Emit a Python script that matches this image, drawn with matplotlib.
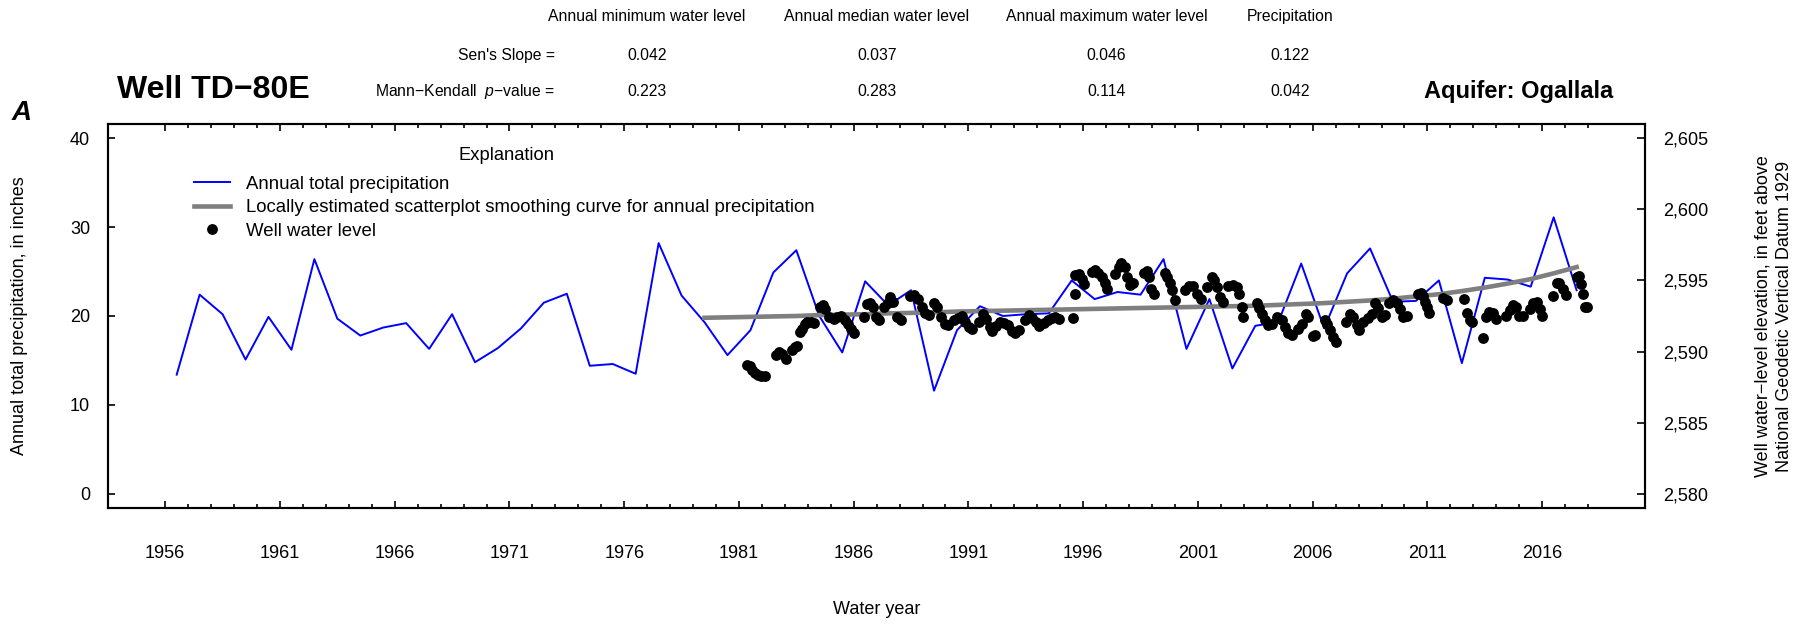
import numpy as np
import matplotlib
matplotlib.use("Agg")
import matplotlib.pyplot as plt
from matplotlib.lines import Line2D
from matplotlib.ticker import FixedLocator, FuncFormatter

# ---- data ----
precip_year = np.arange(1956, 2018)  # water years, drawn at mid-year
precip_in = [13.4, 22.4, 20.2, 15.1, 19.9, 16.2, 26.4, 19.7, 17.8, 18.7,
             19.2, 16.3, 20.2, 14.8, 16.4, 18.6, 21.5, 22.5, 14.4, 14.6,
             13.5, 28.2, 22.3, 19.3, 15.6, 18.4, 24.9, 27.4, 20.0, 15.9,
             23.9, 21.2, 22.9, 11.6, 18.4, 21.1, 20.0, 20.2, 20.3, 24.0,
             21.9, 22.7, 22.4, 26.4, 16.3, 21.9, 14.1, 18.9, 19.3, 25.9,
             18.6, 24.8, 27.6, 21.6, 21.7, 24.0, 14.7, 24.3, 24.1, 23.3,
             31.1, 22.9]

loess_year = np.arange(1979, 2018)
loess_in = [19.8, 19.85, 19.9, 19.95, 20.0, 20.1, 20.15, 20.2, 20.3, 20.35,
            20.4, 20.5, 20.55, 20.6, 20.65, 20.7, 20.75, 20.8, 20.85, 20.9,
            20.95, 21.0, 21.05, 21.1, 21.15, 21.25, 21.35, 21.45, 21.6, 21.75,
            21.95, 22.2, 22.45, 22.8, 23.2, 23.65, 24.15, 24.8, 25.5]

well_year = [
    1981.37, 1981.48, 1981.58, 1981.68, 1981.82, 1981.98, 1982.12,
    1982.62, 1982.75, 1982.87, 1983.03, 1983.32, 1983.45, 1983.55,
    1983.65, 1983.75, 1983.87, 1983.98, 1984.15, 1984.29, 1984.54, 1984.65, 1984.75,
    1984.92, 1985.12, 1985.29, 1985.45, 1985.62, 1985.75, 1985.87, 1986.00,
    1986.45, 1986.59, 1986.70, 1986.82, 1986.95, 1987.12, 1987.32, 1987.49,
    1987.59, 1987.70, 1987.87, 1988.04,
    1988.46, 1988.62, 1988.79, 1988.96, 1989.09, 1989.26, 1989.49, 1989.62,
    1989.79, 1989.96, 1990.09, 1990.37, 1990.54, 1990.71, 1990.87, 1991.04, 1991.17,
    1991.46, 1991.62, 1991.76, 1991.92, 1992.04, 1992.21, 1992.38, 1992.54,
    1992.71, 1992.88, 1993.04, 1993.21,
    1993.46, 1993.63, 1993.79, 1993.96, 1994.09, 1994.29, 1994.46, 1994.63,
    1994.79, 1994.93, 1995.54,
    1995.63, 1995.66, 1995.80, 1995.93, 1996.05, 1996.38, 1996.50, 1996.63,
    1996.80, 1996.93, 1997.05,
    1997.38, 1997.55, 1997.66, 1997.80, 1997.93, 1998.05, 1998.17, 1998.63,
    1998.76, 1998.88, 1998.96, 1999.10, 1999.55, 1999.66, 1999.80, 1999.88, 2000.00,
    2000.43, 2000.60, 2000.80, 2000.97, 2001.13,
    2001.38, 2001.60, 2001.70, 2001.81, 2001.96, 2002.10, 2002.32, 2002.54,
    2002.69, 2002.80, 2002.90, 2002.98,
    2003.56, 2003.67, 2003.78, 2003.92, 2004.07, 2004.21, 2004.46, 2004.65,
    2004.79, 2004.94, 2005.08, 2005.37, 2005.52, 2005.71, 2005.81, 2006.03, 2006.10,
    2006.54, 2006.64, 2006.75, 2006.87, 2007.02, 2007.45, 2007.63, 2007.74,
    2007.92, 2008.03, 2008.21, 2008.42, 2008.57, 2008.72, 2008.86, 2009.01,
    2009.15, 2009.34, 2009.51, 2009.66, 2009.81, 2009.95, 2010.12,
    2010.60, 2010.71, 2010.79, 2010.90, 2010.97, 2011.08, 2011.69, 2011.87,
    2012.60, 2012.71, 2012.86, 2012.93,
    2013.44, 2013.55, 2013.70, 2013.85, 2013.99, 2014.43, 2014.60, 2014.75,
    2014.86, 2015.01, 2015.15, 2015.47, 2015.62, 2015.76, 2015.91, 2015.98,
    2016.49, 2016.64, 2016.75, 2016.90, 2017.04, 2017.51, 2017.62, 2017.68,
    2017.77, 2017.87, 2017.97]
well_level = [
    2589.08, 2588.97, 2588.73, 2588.50, 2588.33, 2588.26, 2588.31,
    2589.74, 2590.00, 2589.86, 2589.51, 2590.09, 2590.33, 2590.37,
    2591.38, 2591.62, 2591.97, 2592.09, 2592.11, 2592.02, 2593.14, 2593.26, 2593.00,
    2592.44, 2592.32, 2592.44, 2592.49, 2592.25, 2591.92, 2591.62, 2591.27,
    2592.44, 2593.31, 2593.42, 2593.10, 2592.44, 2592.25, 2593.10, 2593.42,
    2593.85, 2593.50, 2592.44, 2592.20,
    2593.90, 2594.01, 2593.73, 2593.14, 2592.72, 2592.56, 2593.38, 2593.14,
    2592.44, 2591.97, 2591.85, 2592.25, 2592.39, 2592.49, 2592.09, 2591.73, 2591.62,
    2592.09, 2592.67, 2592.32, 2591.73, 2591.45, 2591.78, 2592.09, 2592.02,
    2591.85, 2591.45, 2591.31, 2591.50,
    2592.20, 2592.56, 2592.39, 2592.09, 2591.78, 2592.02, 2592.20, 2592.39,
    2592.44, 2592.32, 2592.37,
    2594.08, 2595.37, 2595.44, 2595.07, 2594.74, 2595.61, 2595.73, 2595.49,
    2595.26, 2594.79, 2594.43,
    2595.44, 2595.96, 2596.20, 2595.96, 2595.26, 2594.67, 2594.79, 2595.54,
    2595.68, 2595.26, 2594.43, 2594.03, 2595.49, 2595.26, 2594.79, 2594.32, 2593.61,
    2594.32, 2594.60, 2594.60, 2594.08, 2593.73,
    2594.55, 2595.26, 2595.02, 2594.55, 2593.85, 2593.50, 2594.60, 2594.67,
    2594.55, 2594.08, 2593.14, 2592.44,
    2593.38, 2593.03, 2592.67, 2592.20, 2591.85, 2591.97, 2592.44, 2592.20,
    2591.73, 2591.27, 2591.15, 2591.62, 2591.97, 2592.67, 2592.44, 2591.08, 2591.15,
    2592.20, 2591.92, 2591.50, 2591.03, 2590.68, 2592.09, 2592.67, 2592.44,
    2591.85, 2591.50, 2592.09, 2592.39, 2592.67, 2593.38, 2593.03, 2592.44,
    2592.56, 2593.38, 2593.66, 2593.38, 2592.96, 2592.44, 2592.49,
    2594.08, 2594.13, 2593.90, 2593.50, 2593.14, 2592.72, 2593.80, 2593.61,
    2593.73, 2592.72, 2592.20, 2592.09,
    2590.98, 2592.44, 2592.79, 2592.72, 2592.32, 2592.49, 2592.91, 2593.26,
    2593.14, 2592.49, 2592.49, 2592.96, 2593.38, 2593.50, 2592.96, 2592.49,
    2593.90, 2594.79, 2594.83, 2594.43, 2593.97, 2595.26, 2595.30, 2594.74,
    2594.08, 2593.14, 2593.14]

stat_names = ["Annual minimum water level", "Annual median water level",
              "Annual maximum water level", "Precipitation"]
sens_slope = ["0.042", "0.037", "0.046", "0.122"]
mk_pvalue = ["0.223", "0.283", "0.114", "0.042"]

legend_labels = ["Annual total precipitation",
                 "Locally estimated scatterplot smoothing curve for annual precipitation",
                 "Well water level"]

# ---- style ----
plt.rcParams['font.family'] = ['Liberation Sans', 'DejaVu Sans']
plt.rcParams['mathtext.fontset'] = 'custom'
plt.rcParams['mathtext.rm'] = 'Liberation Sans'
plt.rcParams['mathtext.it'] = 'Liberation Sans:italic'

W, H = 1813, 626
BLUE = '#0000FF'
GREY = '#7F7F7F'


def fx(px):
    return px / W


def fy(py):
    return 1 - py / H


fig = plt.figure(figsize=(W / 100, H / 100), dpi=100)
ax = fig.add_axes([fx(108.3), fy(508), (1645 - 108.3) / W, (508 - 124) / H])
ax2 = ax.twinx()

ax.plot(precip_year + 0.5, precip_in, color=BLUE, lw=1.4, zorder=2)
ax.plot(loess_year + 0.5, loess_in, color=GREY, lw=3.3, zorder=3)
ax2.plot(well_year, well_level, ls='none', marker='o', color='black',
         ms=7.8, mew=0, zorder=4)

ax.set_xlim(1953.52, 2020.48)
ax.set_ylim(-1.6, 41.6)
ax2.set_ylim(2579, 2606)

ax.xaxis.set_major_locator(FixedLocator(list(range(1956, 2017, 5))))
ax.xaxis.set_minor_locator(FixedLocator(list(range(1956, 2019))))
ax.tick_params(axis='x', which='both', direction='in', top=True, bottom=True,
               width=1.2, labelsize=13, pad=27)
ax.tick_params(axis='x', which='major', length=5.3)
ax.tick_params(axis='x', which='minor', length=3)

ax.set_yticks([0, 10, 20, 30, 40])
ax.tick_params(axis='y', direction='in', length=5.3, width=1.2,
               labelsize=13, pad=13)
ax2.set_yticks([2580, 2585, 2590, 2595, 2600, 2605])
ax2.yaxis.set_major_formatter(FuncFormatter(lambda v, p: f"{v:,.0f}"))
ax2.tick_params(axis='y', direction='in', length=6, width=1.2,
                labelsize=13, pad=13)

for a in (ax, ax2):
    for s in a.spines.values():
        s.set_linewidth(1.5)

handles = [Line2D([], [], color=BLUE, lw=1.4),
           Line2D([], [], color=GREY, lw=3.3),
           Line2D([], [], ls='none', marker='o', color='black', ms=7.8, mew=0)]
ax2.legend(handles, legend_labels, loc='upper left',
           bbox_to_anchor=(fx(194), fy(175.5)), bbox_transform=fig.transFigure,
           frameon=False, fontsize=13.4, handlelength=1.92, handletextpad=0.9,
           labelspacing=0.36, borderpad=0, borderaxespad=0)
fig.text(fx(507), fy(156), "Explanation", ha='center', va='center', fontsize=13.2)

# axis titles
fig.text(fx(20), fy(315.5), "Annual total precipitation, in inches",
         rotation=90, ha='center', va='center', fontsize=13)
fig.text(fx(1773.4), fy(316),
         "Well water\u2212level elevation, in feet above\nNational Geodetic Vertical Datum 1929",
         rotation=90, ha='center', va='center', fontsize=13,
         multialignment='center', linespacing=1.35)
fig.text(fx(876.6), fy(610), "Water year", ha='center', va='center', fontsize=13)

# header block
cols_x = [647, 877, 1106.5, 1290]
for cx, name, sl, pv in zip(cols_x, stat_names, sens_slope, mk_pvalue):
    fig.text(fx(cx), fy(20.7), name, ha='center', va='baseline', fontsize=11.3)
    fig.text(fx(cx), fy(60), sl, ha='center', va='baseline', fontsize=11.3)
    fig.text(fx(cx), fy(96), pv, ha='center', va='baseline', fontsize=11.3)
fig.text(fx(555), fy(60), "Sen's Slope =", ha='right', va='baseline', fontsize=11.3)
fig.text(fx(555), fy(96), "Mann\u2212Kendall  $\\mathit{p}$\u2212value =",
         ha='right', va='baseline', fontsize=11.3)

fig.text(fx(116.7), fy(98.3), "Well TD\u221280E", ha='left', va='baseline',
         fontsize=23, fontweight='bold')
fig.text(fx(11.7), fy(120), "A", ha='left', va='baseline', fontsize=20,
         fontweight='bold', fontstyle='italic')
fig.text(fx(1613.3), fy(98.3), "Aquifer: Ogallala", ha='right', va='baseline',
         fontsize=17, fontweight='bold')

fig.savefig("out.png", dpi=100)
